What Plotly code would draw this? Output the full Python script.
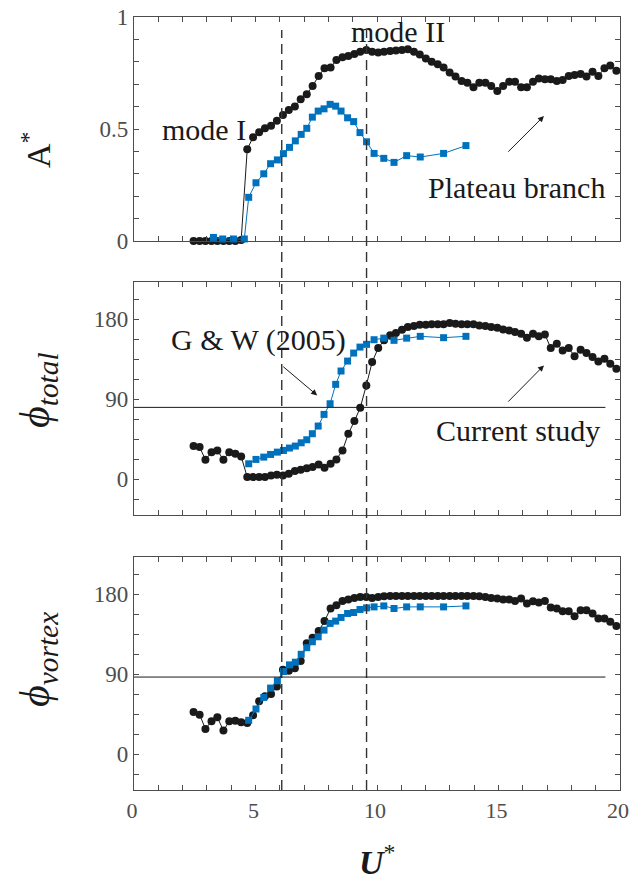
import plotly.graph_objects as go

# ---------------- data ----------------
U_cur = [2.45, 2.70, 2.94, 3.19, 3.43, 3.68, 3.92, 4.17, 4.41, 4.66, 4.90, 5.15, 5.39, 5.64, 5.88,
         6.13, 6.37, 6.62, 6.86, 7.11, 7.35, 7.60, 7.84, 8.09, 8.33, 8.58, 8.82, 9.07, 9.31, 9.56,
         9.80, 10.05, 10.29, 10.54, 10.78, 11.03, 11.27, 11.52, 11.76, 12.01, 12.25, 12.50, 12.74,
         12.99, 13.23, 13.48, 13.72, 13.97, 14.21, 14.46, 14.70, 14.95, 15.19, 15.44, 15.68, 15.93,
         16.17, 16.42, 16.66, 16.91, 17.15, 17.40, 17.64, 17.89, 18.13, 18.38, 18.62, 18.87, 19.11,
         19.36, 19.60, 19.85]

A_cur = [0.0, 0.0, 0.0, 0.0, 0.0, 0.0, 0.0, 0.0, 0.005, 0.41, 0.463, 0.485, 0.503, 0.515, 0.537,
         0.562, 0.585, 0.60, 0.633, 0.655, 0.692, 0.737, 0.771, 0.774, 0.808, 0.82, 0.826, 0.835,
         0.845, 0.853, 0.845, 0.842, 0.845, 0.848, 0.850, 0.853, 0.856, 0.845, 0.833, 0.815, 0.800,
         0.789, 0.774, 0.752, 0.734, 0.714, 0.707, 0.686, 0.707, 0.707, 0.692, 0.670, 0.692, 0.711,
         0.711, 0.686, 0.686, 0.711, 0.726, 0.722, 0.722, 0.714, 0.719, 0.737, 0.741, 0.746, 0.734,
         0.756, 0.737, 0.771, 0.783, 0.760]

phi_total_cur = [37.5, 36.4, 22.1, 30.7, 32.6, 22.1, 30.7, 28.9, 25.9, 2.6, 2.6, 2.6, 2.6, 4.5, 5.2,
                 4.5, 6.4, 9.4, 10.9, 12.7, 13.9, 16.9, 13.2, 17.6, 22.5, 32.6, 51.4, 65.6, 80.6,
                 105.7, 132.0, 147.7, 156.4, 162.0, 164.6, 168.4, 171.4, 172.5, 174.0, 174.0, 174.4,
                 174.4, 174.4, 175.9, 175.1, 174.4, 174.4, 174.4, 173.2, 172.5, 171.4, 170.6, 168.7,
                 167.6, 165.7, 163.9, 159.4, 163.9, 160.9, 163.1, 147.7, 152.6, 145.1, 147.7, 138.4,
                 145.9, 142.1, 137.6, 132.7, 135.8, 130.1, 124.5]

phi_vortex_cur = [47.7, 44.7, 28.7, 37.3, 41.8, 26.8, 37.3, 38.0, 36.2, 35.4, 44.0, 59.7, 65.3, 67.9,
                  76.4, 95.1, 94.0, 97.0, 105.1, 124.9, 131.2, 138.7, 149.9, 164.1, 167.8, 172.6,
                  174.2, 176.0, 177.1, 177.1, 176.0, 177.1, 177.9, 178.2, 178.2, 178.2, 178.2, 178.2,
                  178.2, 178.2, 178.2, 178.2, 178.2, 178.2, 178.2, 178.2, 178.2, 178.2, 177.9, 177.1,
                  176.0, 175.3, 174.2, 174.2, 172.6, 175.3, 169.7, 172.3, 170.8, 172.6, 165.2, 164.1,
                  161.1, 161.1, 155.5, 162.2, 162.2, 158.5, 152.9, 152.9, 149.1, 144.3]

U_gw_pre = [3.27, 3.65, 4.09, 4.54]
A_gw_pre = [0.016, 0.009, 0.009, 0.009]

U_gw = [4.72, 5.02, 5.34, 5.62, 5.90, 6.15, 6.40, 6.64, 6.88, 7.11, 7.34, 7.58, 7.82, 8.07, 8.30,
        8.52, 8.79, 9.04, 9.30, 9.57, 9.88, 10.28, 10.70, 11.22, 11.78, 12.74, 13.66]
A_gw = [0.195, 0.26, 0.30, 0.345, 0.362, 0.39, 0.418, 0.447, 0.476, 0.503, 0.553, 0.58, 0.59,
        0.61, 0.602, 0.58, 0.55, 0.533, 0.484, 0.443, 0.391, 0.369, 0.351, 0.381, 0.375, 0.391, 0.426]
phi_total_gw = [17.6, 22.5, 25.1, 28.1, 30.7, 32.6, 35.3, 37.5, 41.2, 44.6, 51.4, 60.0, 73.1, 85.1,
                106.9, 121.9, 133.1, 142.1, 148.8, 151.9, 157.1, 158.9, 156.4, 158.9, 160.9, 159.4,
                160.9]
phi_vortex_gw = [38.4, 51.1, 64.1, 74.6, 82.8, 93.2, 100.7, 103.7, 112.6, 120.0, 126.7, 132.3, 139.8,
                 147.3, 149.9, 154.0, 158.5, 159.6, 163.0, 164.8, 165.9, 167.0, 164.1, 165.9, 165.9,
                 165.9, 167.0]

mode_lines = [6.08, 9.57]
ref_total = 81
ref_vortex = 87

x_ticks = list(range(0, 21))
x_labels = [str(v) if v % 5 == 0 else "" for v in x_ticks]
a_ticks = [i / 10 for i in range(0, 11)]
a_labels = ["0", "", "", "", "", "0.5", "", "", "", "", "1"]
p_ticks = [-22.5 + 22.5 * i for i in range(0, 11)]
p_labels = ["0" if v == 0 else "90" if v == 90 else "180" if v == 180 else "" for v in p_ticks]

# ---------------- style ----------------
BLACK = "#1a1a1a"
BLUE = "#0072BD"
AX = "#4d4d4d"
SERIF = "Liberation Serif"

fig = go.Figure()

def add_pair(xa, ya, xc, yc, xg, yg, xg_pre=None, yg_pre=None):
    fig.add_trace(go.Scatter(x=xc, y=yc, xaxis=xa, yaxis=ya, mode="lines+markers",
                             line=dict(color=BLACK, width=1),
                             marker=dict(symbol="circle", size=8, color=BLACK),
                             showlegend=False, cliponaxis=False))
    gx = (xg_pre or []) + xg
    gy = (yg_pre or []) + yg
    fig.add_trace(go.Scatter(x=gx, y=gy, xaxis=xa, yaxis=ya, mode="lines+markers",
                             line=dict(color=BLUE, width=1),
                             marker=dict(symbol="square", size=7, color=BLUE),
                             showlegend=False, cliponaxis=False))

add_pair("x", "y", U_cur, A_cur, U_gw, A_gw, U_gw_pre, A_gw_pre)
add_pair("x2", "y2", U_cur, phi_total_cur, U_gw, phi_total_gw)
add_pair("x3", "y3", U_cur, phi_vortex_cur, U_gw, phi_vortex_gw)

W, H = 629, 884
ML, MR, MT, MB = 134, 9, 17, 94
PH = H - MT - MB

def py(pix):
    return (H - MB - pix) / PH

def px(pix):
    return (pix - ML) / (W - ML - MR)

common = dict(showline=True, mirror="allticks", linecolor=AX, linewidth=1.3,
              ticks="inside", ticklen=5, tickwidth=1, tickcolor=AX,
              showgrid=False, zeroline=False, automargin=False,
              tickfont=dict(family=SERIF, size=23, color=AX))

xcommon = dict(common, range=[0, 20], tickmode="array", tickvals=x_ticks,
               ticklabeloverflow="allow")

fig.update_layout(
    width=W, height=H, autosize=False,
    margin=dict(l=ML, r=MR, t=MT, b=MB),
    paper_bgcolor="white", plot_bgcolor="white",
    xaxis=dict(xcommon, anchor="y", domain=[0, 1], ticktext=[""] * 21),
    xaxis2=dict(xcommon, anchor="y2", domain=[0, 1], ticktext=[""] * 21),
    xaxis3=dict(xcommon, anchor="y3", domain=[0, 1], ticktext=x_labels, ticklabelshift=-2,
                tickfont=dict(family=SERIF, size=22, color=AX)),
    yaxis=dict(common, anchor="x", domain=[py(241), py(17)], range=[0, 1],
               tickmode="array", tickvals=a_ticks, ticktext=a_labels),
    yaxis2=dict(common, anchor="x2", domain=[py(515), py(282)], range=[-40, 222],
                tickmode="array", tickvals=p_ticks, ticktext=p_labels),
    yaxis3=dict(common, anchor="x3", domain=[py(790), py(557)], range=[-40, 222],
                tickmode="array", tickvals=p_ticks, ticktext=p_labels),
)

shapes = []
for xv in mode_lines:
    shapes.append(dict(type="line", xref="x3", yref="paper", x0=xv, x1=xv,
                       y0=py(790), y1=py(30),
                       line=dict(color="#333333", width=1.4, dash="10px,6px"), layer="above"))
shapes.append(dict(type="line", xref="x2", yref="y2", x0=-0.2, x1=19.4, y0=ref_total, y1=ref_total,
                   line=dict(color=BLACK, width=1), layer="above"))
shapes.append(dict(type="line", xref="x3", yref="y3", x0=-0.2, x1=19.4, y0=ref_vortex, y1=ref_vortex,
                   line=dict(color=BLACK, width=1), layer="above"))
fig.update_layout(shapes=shapes)

tf = dict(family=SERIF, size=30, color=BLACK)
ctr = dict(xanchor="center", yanchor="middle", showarrow=False)
ann = [
    dict(ctr, text="mode I", x=2.9, y=0.50, xref="x", yref="y", font=tf),
    dict(ctr, text="mode II", x=10.86, y=0.935, xref="x", yref="y", font=tf),
    dict(ctr, text="Plateau branch", x=15.75, y=0.237, xref="x", yref="y", font=tf),
    dict(ctr, text="G &amp; W (2005)", x=5.14, y=156.4, xref="x2", yref="y2", font=tf),
    dict(ctr, text="Current study", x=15.8, y=55.1, xref="x2", yref="y2", font=tf),
    # arrows
    dict(text="", x=16.87, y=0.558, ax=15.34, ay=0.392, xref="x", yref="y", axref="x", ayref="y",
         showarrow=True, arrowhead=2, arrowsize=1.2, arrowwidth=1, arrowcolor=BLACK),
    dict(text="", x=7.54, y=94.5, ax=6.08, ay=128.2, xref="x2", yref="y2", axref="x2", ayref="y2",
         showarrow=True, arrowhead=2, arrowsize=1.2, arrowwidth=1, arrowcolor=BLACK),
    dict(text="", x=16.87, y=128.2, ax=15.34, ay=85.8, xref="x2", yref="y2", axref="x2", ayref="y2",
         showarrow=True, arrowhead=2, arrowsize=1.2, arrowwidth=1, arrowcolor=BLACK),
    # axis titles
    dict(ctr, text="A<sup>*</sup>", x=px(36), y=py(150), xref="paper", yref="paper", textangle=-90,
         font=dict(family=SERIF, size=34, color=BLACK)),
    dict(ctr, text="<i>\u03d5</i><sub><i>total</i></sub>", x=px(38), y=py(390), xref="paper",
         yref="paper", textangle=-90, font=dict(family=SERIF, size=42, color=BLACK)),
    dict(ctr, text="<i>\u03d5</i><sub><i>vortex</i></sub>", x=px(38), y=py(660), xref="paper",
         yref="paper", textangle=-90, font=dict(family=SERIF, size=42, color=BLACK)),
    dict(ctr, text="<b><i>U</i></b><sup>*</sup>", x=px(377), y=py(860), xref="paper", yref="paper",
         font=dict(family=SERIF, size=34, color=BLACK)),
]
fig.update_layout(annotations=ann)

fig.write_html("out.html")
